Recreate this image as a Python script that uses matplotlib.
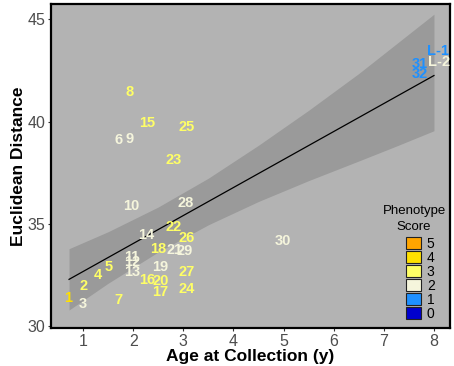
import matplotlib
matplotlib.use('Agg')
import matplotlib.pyplot as plt
from matplotlib.patches import Patch

plt.rcParams['font.family'] = ['Liberation Sans', 'DejaVu Sans']

# sample labels, age (y), euclidean distance, phenotype score
labels = ['1', '2', '3', '4', '5', '6', '7', '8', '9', '10',
          '11', '12', '13', '14', '15', '16', '17', '18', '19', '20',
          '21', '22', '23', '24', '25', '26', '27', '28', '29', '30',
          '31', '32', 'L-1', 'L-2']
age = [0.70, 1.00, 1.00, 1.29, 1.52, 1.70, 1.70, 1.92, 1.92, 1.97,
       1.97, 1.97, 1.97, 2.27, 2.27, 2.27, 2.54, 2.50, 2.54, 2.54,
       2.83, 2.81, 2.81, 3.07, 3.07, 3.07, 3.07, 3.05, 3.03, 4.99,
       7.71, 7.71, 8.09, 8.11]
dist = [31.39, 31.97, 31.07, 32.49, 32.87, 39.09, 31.27, 41.45, 39.17, 35.86,
        33.39, 33.14, 32.65, 34.45, 39.93, 32.25, 31.68, 33.75, 32.87, 32.21,
        33.71, 34.85, 38.14, 31.81, 39.71, 34.28, 32.65, 36.02, 33.66, 34.15,
        42.80, 42.34, 43.45, 42.91]
score = [4, 3, 2, 3, 3, 2, 3, 3, 2, 2,
         2, 2, 2, 2, 3, 3, 3, 3, 2, 3,
         2, 3, 3, 3, 3, 3, 3, 2, 2, 2,
         1, 1, 1, 2]

# linear fit and its confidence band
fit_x = [0.72, 8.0]
fit_y = [32.28, 42.25]
band_x = [0.72, 1.5, 2.5, 3.5, 4.5, 5.5, 6.5, 7.25, 8.0]
band_lo = [30.78, 32.09, 33.62, 34.95, 36.09, 37.11, 38.07, 38.80, 39.55]
band_hi = [33.78, 34.61, 35.82, 37.23, 38.84, 40.55, 42.35, 43.80, 45.25]

score_levels = [5, 4, 3, 2, 1, 0]
score_colors = {5: '#FFA500', 4: '#FFE000', 3: '#FFFF66',
                2: '#F5F5DC', 1: '#1E90FF', 0: '#0000CD'}

fig = plt.figure(figsize=(4.54, 3.66), dpi=100)
ax = fig.add_axes([51/454, 1 - 328/366, 399/454, 324/366])
ax.set_facecolor('#B3B3B3')

ax.fill_between(band_x, band_lo, band_hi, color='#9A9A9A', lw=0, zorder=1)
ax.plot(fit_x, fit_y, color='black', lw=0.9, zorder=2)

for lab, x, y, s in zip(labels, age, dist, score):
    ax.text(x, y, lab, color=score_colors[s], fontsize=10.5, fontweight='bold',
            ha='center', va='center', zorder=3)

ax.set_xlim(0.36, 8.32)
ax.set_ylim(29.9, 45.75)
ax.set_xticks(range(1, 9))
ax.set_yticks([30, 35, 40, 45])
ax.tick_params(colors='#333333', labelcolor='#4D4D4D', labelsize=11.5,
               length=2.5, width=0.8, pad=1.5)
for sp in ax.spines.values():
    sp.set_linewidth(1.6)
    sp.set_color('black')

ax.set_xlabel('Age at Collection (y)', fontsize=12.5, fontweight='bold', labelpad=0)
ax.set_ylabel('Euclidean Distance', fontsize=12.5, fontweight='bold', labelpad=1)

# legend: title as its own text, keys stacked below
fig.text(414/454, 1 - 219/366, 'Phenotype\nScore', fontsize=9.5, ha='center',
         va='center', multialignment='center', linespacing=1.35)
handles = [Patch(facecolor=score_colors[s], edgecolor='#222222', lw=0.8) for s in score_levels]
leg = ax.legend(handles, [str(s) for s in score_levels],
                loc='upper left', bbox_to_anchor=(406/454, 1 - 237/366),
                bbox_transform=fig.transFigure, frameon=False, fontsize=10,
                handlelength=1.05, handleheight=1.0,
                labelspacing=0, handletextpad=0.45, borderpad=0, borderaxespad=0)

fig.savefig('out.png', dpi=100)
